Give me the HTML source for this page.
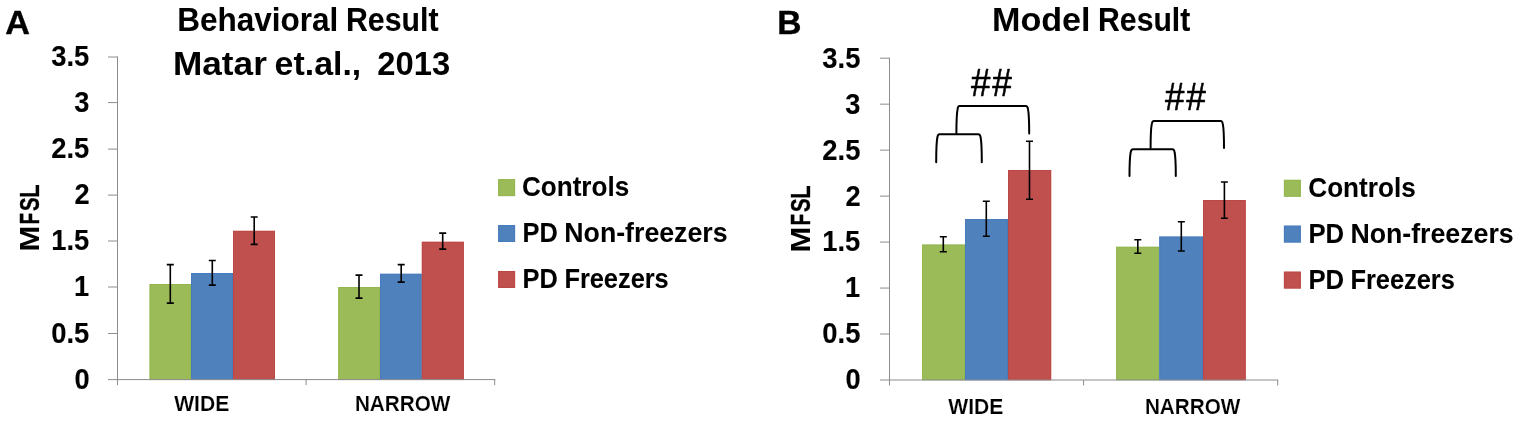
<!DOCTYPE html>
<html lang="en">
<head>
<meta charset="utf-8">
<title>Behavioral Result and Model Result</title>
<style>
html,body{margin:0;padding:0;background:#fff;}
body{width:1519px;height:421px;overflow:hidden;}
svg{display:block;font-family:'Liberation Sans',sans-serif;}
text{fill:#000;}
</style>
</head>
<body>
<svg width="1519" height="421" viewBox="0 0 1519 421">
<rect width="1519" height="421" fill="#fff"/>
<g id="panelA">
<rect x="149.5" y="284" width="41.50" height="95.60" fill="#9BBB59"/>
<rect x="150.0" y="284.5" width="40.50" height="95.10" fill="none" stroke="#8DB346" stroke-width="1" stroke-opacity="0.55"/>
<rect x="191" y="273" width="42.00" height="106.60" fill="#4F81BD"/>
<rect x="191.5" y="273.5" width="41.00" height="106.10" fill="none" stroke="#3F76BC" stroke-width="1" stroke-opacity="0.55"/>
<rect x="233" y="230.8" width="42.00" height="148.80" fill="#C0504D"/>
<rect x="233.5" y="231.3" width="41.00" height="148.30" fill="none" stroke="#B9403D" stroke-width="1" stroke-opacity="0.55"/>
<rect x="338.2" y="287" width="41.80" height="92.60" fill="#9BBB59"/>
<rect x="338.7" y="287.5" width="40.80" height="92.10" fill="none" stroke="#8DB346" stroke-width="1" stroke-opacity="0.55"/>
<rect x="380" y="273.75" width="41.80" height="105.85" fill="#4F81BD"/>
<rect x="380.5" y="274.25" width="40.80" height="105.35" fill="none" stroke="#3F76BC" stroke-width="1" stroke-opacity="0.55"/>
<rect x="421.8" y="241.75" width="42.10" height="137.85" fill="#C0504D"/>
<rect x="422.3" y="242.25" width="41.10" height="137.35" fill="none" stroke="#B9403D" stroke-width="1" stroke-opacity="0.55"/>
<path d="M117.5 56.5V380.1M108.0 379.6H495.2M108.0 57.00H117.5M108.0 102.60H117.5M108.0 149.10H117.5M108.0 195.10H117.5M108.0 241.00H117.5M108.0 287.00H117.5M108.0 333.50H117.5M117.5 379.6V385.1M306.1 379.6V385.1M494.7 379.6V385.1" stroke="#8c8c8c" stroke-width="1" fill="none"/>
<path d="M170.3 264.6V303.1M166.8 264.6H173.8M166.8 303.1H173.8" stroke="#000" stroke-width="1.6" fill="none"/>
<path d="M212.3 260.5V285.1M208.8 260.5H215.8M208.8 285.1H215.8" stroke="#000" stroke-width="1.6" fill="none"/>
<path d="M254.2 217.0V244.4M250.7 217.0H257.7M250.7 244.4H257.7" stroke="#000" stroke-width="1.6" fill="none"/>
<path d="M359.0 275.1V298.1M355.5 275.1H362.5M355.5 298.1H362.5" stroke="#000" stroke-width="1.6" fill="none"/>
<path d="M401.2 264.6V282.1M397.7 264.6H404.7M397.7 282.1H404.7" stroke="#000" stroke-width="1.6" fill="none"/>
<path d="M442.7 233.1V249.1M439.2 233.1H446.2M439.2 249.1H446.2" stroke="#000" stroke-width="1.6" fill="none"/>
<text y="66.10" font-size="29.5" font-weight="bold" stroke-linejoin="round"><tspan x="51.17" textLength="38.11" lengthAdjust="spacingAndGlyphs" stroke="#000" stroke-width="0.10">3.5</tspan></text>
<text y="111.70" font-size="29.5" font-weight="bold" stroke-linejoin="round"><tspan x="74.27" textLength="15.16" lengthAdjust="spacingAndGlyphs" stroke="#000" stroke-width="0.11">3</tspan></text>
<text y="158.20" font-size="29.5" font-weight="bold" stroke-linejoin="round"><tspan x="51.17" textLength="38.11" lengthAdjust="spacingAndGlyphs" stroke="#000" stroke-width="0.10">2.5</tspan></text>
<text y="204.20" font-size="29.5" font-weight="bold" stroke-linejoin="round"><tspan x="74.41" textLength="15.16" lengthAdjust="spacingAndGlyphs" stroke="#000" stroke-width="0.11">2</tspan></text>
<text y="250.10" font-size="29.5" font-weight="bold" stroke-linejoin="round"><tspan x="51.17" textLength="38.10" lengthAdjust="spacingAndGlyphs" stroke="#000" stroke-width="0.10">1.5</tspan></text>
<text y="296.10" font-size="29.5" font-weight="bold" stroke-linejoin="round"><tspan x="74.00" textLength="15.16" lengthAdjust="spacingAndGlyphs" stroke="#000" stroke-width="0.11">1</tspan></text>
<text y="342.60" font-size="29.5" font-weight="bold" stroke-linejoin="round"><tspan x="51.17" textLength="38.11" lengthAdjust="spacingAndGlyphs" stroke="#000" stroke-width="0.10">0.5</tspan></text>
<text y="388.70" font-size="29.5" font-weight="bold" stroke-linejoin="round"><tspan x="74.41" textLength="15.16" lengthAdjust="spacingAndGlyphs" stroke="#000" stroke-width="0.11">0</tspan></text>
<text transform="translate(38.90 249.40) rotate(-90)" y="0" font-size="28.3" font-weight="bold" stroke-linejoin="round"><tspan x="-2.02" textLength="25.82" lengthAdjust="spacingAndGlyphs" stroke="#000" stroke-width="0.00">M</tspan><tspan x="25.25" textLength="11.27" lengthAdjust="spacingAndGlyphs" stroke="#000" stroke-width="0.49">F</tspan><tspan x="38.39" textLength="13.57" lengthAdjust="spacingAndGlyphs" stroke="#000" stroke-width="0.40">S</tspan><tspan x="51.54" textLength="13.38" lengthAdjust="spacingAndGlyphs" stroke="#000" stroke-width="0.32">L</tspan></text>
<text y="34.00" font-size="33.8" font-weight="bold" stroke-linejoin="round" stroke="#000" stroke-width="0.4"><tspan x="5.15" textLength="24.68" lengthAdjust="spacingAndGlyphs">A</tspan></text>
<text y="30.90" font-size="32.3" font-weight="bold" stroke-linejoin="round"><tspan x="177.17" textLength="161.22" lengthAdjust="spacingAndGlyphs" stroke="#000" stroke-width="0.04">Behavioral</tspan> <tspan x="345.98" textLength="92.50" lengthAdjust="spacingAndGlyphs" stroke="#000" stroke-width="0.10">Result</tspan></text>
<text y="74.50" font-size="32.3" font-weight="bold" stroke-linejoin="round"><tspan x="173.01" textLength="93.83" lengthAdjust="spacingAndGlyphs" stroke="#000" stroke-width="0.00">Matar</tspan> <tspan x="274.64" textLength="86.61" lengthAdjust="spacingAndGlyphs" stroke="#000" stroke-width="0.00">et.al.,</tspan> <tspan x="377.35" textLength="72.88" lengthAdjust="spacingAndGlyphs" stroke="#000" stroke-width="0.00">2013</tspan></text>
<text y="411.30" font-size="22.3" font-weight="bold" stroke-linejoin="round" stroke="#fff" stroke-width="0.15"><tspan x="174.13" textLength="55.10" lengthAdjust="spacingAndGlyphs">WIDE</tspan></text>
<text y="411.30" font-size="22.3" font-weight="bold" stroke-linejoin="round" stroke="#fff" stroke-width="0.15"><tspan x="354.89" textLength="95.47" lengthAdjust="spacingAndGlyphs">NARROW</tspan></text>
<text y="196.20" font-size="27.5" font-weight="bold" stroke-linejoin="round"><tspan x="521.89" textLength="107.34" lengthAdjust="spacingAndGlyphs" stroke="#000" stroke-width="0.07">Controls</tspan></text>
<text y="242.10" font-size="27.5" font-weight="bold" stroke-linejoin="round"><tspan x="522.50" textLength="35.27" lengthAdjust="spacingAndGlyphs" stroke="#000" stroke-width="0.11">PD</tspan> <tspan x="564.28" textLength="163.34" lengthAdjust="spacingAndGlyphs" stroke="#000" stroke-width="0.04">Non-freezers</tspan></text>
<text y="287.70" font-size="27.5" font-weight="bold" stroke-linejoin="round"><tspan x="522.50" textLength="35.27" lengthAdjust="spacingAndGlyphs" stroke="#000" stroke-width="0.11">PD</tspan> <tspan x="564.40" textLength="104.35" lengthAdjust="spacingAndGlyphs" stroke="#000" stroke-width="0.11">Freezers</tspan></text>
<rect x="498.1" y="179.1" width="17" height="17" fill="#9BBB59"/>
<rect x="498.6" y="179.6" width="16" height="16" fill="none" stroke="#8DB346" stroke-width="1" stroke-opacity="0.55"/>
<rect x="498.1" y="225" width="17" height="17" fill="#4F81BD"/>
<rect x="498.6" y="225.5" width="16" height="16" fill="none" stroke="#3F76BC" stroke-width="1" stroke-opacity="0.55"/>
<rect x="498.1" y="271" width="17" height="17" fill="#C0504D"/>
<rect x="498.6" y="271.5" width="16" height="16" fill="none" stroke="#B9403D" stroke-width="1" stroke-opacity="0.55"/>
</g>
<g id="panelB">
<rect x="922" y="244.5" width="43.00" height="135.50" fill="#9BBB59"/>
<rect x="922.5" y="245.0" width="42.00" height="135.00" fill="none" stroke="#8DB346" stroke-width="1" stroke-opacity="0.55"/>
<rect x="965" y="219" width="43.00" height="161.00" fill="#4F81BD"/>
<rect x="965.5" y="219.5" width="42.00" height="160.50" fill="none" stroke="#3F76BC" stroke-width="1" stroke-opacity="0.55"/>
<rect x="1008" y="170" width="43.20" height="210.00" fill="#C0504D"/>
<rect x="1008.5" y="170.5" width="42.20" height="209.50" fill="none" stroke="#B9403D" stroke-width="1" stroke-opacity="0.55"/>
<rect x="1116.1" y="246.75" width="43.10" height="133.25" fill="#9BBB59"/>
<rect x="1116.6" y="247.25" width="42.10" height="132.75" fill="none" stroke="#8DB346" stroke-width="1" stroke-opacity="0.55"/>
<rect x="1159.2" y="236.5" width="43.80" height="143.50" fill="#4F81BD"/>
<rect x="1159.7" y="237.0" width="42.80" height="143.00" fill="none" stroke="#3F76BC" stroke-width="1" stroke-opacity="0.55"/>
<rect x="1203" y="200" width="42.80" height="180.00" fill="#C0504D"/>
<rect x="1203.5" y="200.5" width="41.80" height="179.50" fill="none" stroke="#B9403D" stroke-width="1" stroke-opacity="0.55"/>
<path d="M889.5 57.7V380.5M880.0 380.0H1278.2M880.0 58.20H889.5M880.0 104.17H889.5M880.0 150.14H889.5M880.0 196.11H889.5M880.0 242.09H889.5M880.0 288.06H889.5M880.0 334.03H889.5M889.5 380.0V385.5M1083.6 380.0V385.5M1277.7 380.0V385.5" stroke="#8c8c8c" stroke-width="1" fill="none"/>
<path d="M943.3 236.7V251.7M939.8 236.7H946.8M939.8 251.7H946.8" stroke="#000" stroke-width="1.6" fill="none"/>
<path d="M986.3 201.2V236.2M982.8 201.2H989.8M982.8 236.2H989.8" stroke="#000" stroke-width="1.6" fill="none"/>
<path d="M1029.5 141.2V199.2M1026.0 141.2H1033.0M1026.0 199.2H1033.0" stroke="#000" stroke-width="1.6" fill="none"/>
<path d="M1137.8 239.8V253.3M1134.3 239.8H1141.3M1134.3 253.3H1141.3" stroke="#000" stroke-width="1.6" fill="none"/>
<path d="M1181.3 221.8V251.0M1177.8 221.8H1184.8M1177.8 251.0H1184.8" stroke="#000" stroke-width="1.6" fill="none"/>
<path d="M1224.4 182.0V218.3M1220.9 182.0H1227.9M1220.9 218.3H1227.9" stroke="#000" stroke-width="1.6" fill="none"/>
<text y="67.60" font-size="29.5" font-weight="bold" stroke-linejoin="round"><tspan x="822.27" textLength="38.11" lengthAdjust="spacingAndGlyphs" stroke="#000" stroke-width="0.10">3.5</tspan></text>
<text y="113.57" font-size="29.5" font-weight="bold" stroke-linejoin="round"><tspan x="845.37" textLength="15.16" lengthAdjust="spacingAndGlyphs" stroke="#000" stroke-width="0.11">3</tspan></text>
<text y="159.54" font-size="29.5" font-weight="bold" stroke-linejoin="round"><tspan x="822.27" textLength="38.11" lengthAdjust="spacingAndGlyphs" stroke="#000" stroke-width="0.10">2.5</tspan></text>
<text y="205.51" font-size="29.5" font-weight="bold" stroke-linejoin="round"><tspan x="845.51" textLength="15.16" lengthAdjust="spacingAndGlyphs" stroke="#000" stroke-width="0.11">2</tspan></text>
<text y="251.49" font-size="29.5" font-weight="bold" stroke-linejoin="round"><tspan x="822.27" textLength="38.10" lengthAdjust="spacingAndGlyphs" stroke="#000" stroke-width="0.10">1.5</tspan></text>
<text y="297.46" font-size="29.5" font-weight="bold" stroke-linejoin="round"><tspan x="845.10" textLength="15.16" lengthAdjust="spacingAndGlyphs" stroke="#000" stroke-width="0.11">1</tspan></text>
<text y="343.43" font-size="29.5" font-weight="bold" stroke-linejoin="round"><tspan x="822.27" textLength="38.11" lengthAdjust="spacingAndGlyphs" stroke="#000" stroke-width="0.10">0.5</tspan></text>
<text y="389.40" font-size="29.5" font-weight="bold" stroke-linejoin="round"><tspan x="845.51" textLength="15.16" lengthAdjust="spacingAndGlyphs" stroke="#000" stroke-width="0.11">0</tspan></text>
<text transform="translate(809.90 250.40) rotate(-90)" y="0" font-size="28.3" font-weight="bold" stroke-linejoin="round"><tspan x="-2.02" textLength="25.82" lengthAdjust="spacingAndGlyphs" stroke="#000" stroke-width="0.00">M</tspan><tspan x="25.25" textLength="11.27" lengthAdjust="spacingAndGlyphs" stroke="#000" stroke-width="0.49">F</tspan><tspan x="38.39" textLength="13.57" lengthAdjust="spacingAndGlyphs" stroke="#000" stroke-width="0.40">S</tspan><tspan x="51.54" textLength="13.38" lengthAdjust="spacingAndGlyphs" stroke="#000" stroke-width="0.32">L</tspan></text>
<text y="34.00" font-size="33.8" font-weight="bold" stroke-linejoin="round" stroke="#000" stroke-width="0.4"><tspan x="777.32" textLength="24.26" lengthAdjust="spacingAndGlyphs">B</tspan></text>
<text y="31.10" font-size="32.3" font-weight="bold" stroke-linejoin="round"><tspan x="991.98" textLength="98.56" lengthAdjust="spacingAndGlyphs" stroke="#000" stroke-width="0.00">Model</tspan> <tspan x="1098.09" textLength="92.19" lengthAdjust="spacingAndGlyphs" stroke="#000" stroke-width="0.11">Result</tspan></text>
<text y="414.10" font-size="22.3" font-weight="bold" stroke-linejoin="round" stroke="#fff" stroke-width="0.15"><tspan x="948.33" textLength="55.10" lengthAdjust="spacingAndGlyphs">WIDE</tspan></text>
<text y="414.10" font-size="22.3" font-weight="bold" stroke-linejoin="round" stroke="#fff" stroke-width="0.15"><tspan x="1144.89" textLength="95.47" lengthAdjust="spacingAndGlyphs">NARROW</tspan></text>
<text y="196.80" font-size="27.5" font-weight="bold" stroke-linejoin="round"><tspan x="1308.29" textLength="107.45" lengthAdjust="spacingAndGlyphs" stroke="#000" stroke-width="0.07">Controls</tspan></text>
<text y="242.80" font-size="27.5" font-weight="bold" stroke-linejoin="round"><tspan x="1308.47" textLength="35.72" lengthAdjust="spacingAndGlyphs" stroke="#000" stroke-width="0.09">PD</tspan> <tspan x="1350.38" textLength="163.34" lengthAdjust="spacingAndGlyphs" stroke="#000" stroke-width="0.04">Non-freezers</tspan></text>
<text y="288.80" font-size="27.5" font-weight="bold" stroke-linejoin="round"><tspan x="1308.47" textLength="35.72" lengthAdjust="spacingAndGlyphs" stroke="#000" stroke-width="0.09">PD</tspan> <tspan x="1350.50" textLength="104.35" lengthAdjust="spacingAndGlyphs" stroke="#000" stroke-width="0.11">Freezers</tspan></text>
<text y="95.60" font-size="38.5" font-weight="normal" stroke-linejoin="round" stroke="#000" stroke-width="0.6"><tspan x="971.12" textLength="19.41" lengthAdjust="spacingAndGlyphs">#</tspan><tspan x="992.30" textLength="19.63" lengthAdjust="spacingAndGlyphs">#</tspan></text>
<text y="109.60" font-size="38.5" font-weight="normal" stroke-linejoin="round" stroke="#000" stroke-width="0.6"><tspan x="1165.12" textLength="19.41" lengthAdjust="spacingAndGlyphs">#</tspan><tspan x="1186.30" textLength="19.63" lengthAdjust="spacingAndGlyphs">#</tspan></text>
<rect x="1283.9" y="179.8" width="17" height="17" fill="#9BBB59"/>
<rect x="1284.4" y="180.3" width="16" height="16" fill="none" stroke="#8DB346" stroke-width="1" stroke-opacity="0.55"/>
<rect x="1283.9" y="225.6" width="17" height="17" fill="#4F81BD"/>
<rect x="1284.4" y="226.1" width="16" height="16" fill="none" stroke="#3F76BC" stroke-width="1" stroke-opacity="0.55"/>
<rect x="1283.9" y="271.6" width="17" height="17" fill="#C0504D"/>
<rect x="1284.4" y="272.1" width="16" height="16" fill="none" stroke="#B9403D" stroke-width="1" stroke-opacity="0.55"/>
<path d="M956.4 133.5 C956.4 119.5 957.0 112.1 957.6 109.1 Q958.0 106.1 959.4 106.1 H1025.7 Q1027.6000000000001 106.1 1028.0 109.1 C1028.6000000000001 112.1 1029.2 119.5 1029.2 133.5" stroke="#000" stroke-width="2" fill="none" stroke-linecap="round"/>
<path d="M936.2 162.2 C936.2 148.2 936.8000000000001 140.3 937.4000000000001 137.3 Q937.8000000000001 134.3 939.5 134.3 H978.3 Q980.1999999999999 134.3 980.5999999999999 137.3 C981.1999999999999 140.3 981.8 148.2 981.8 162.2" stroke="#000" stroke-width="2" fill="none" stroke-linecap="round"/>
<path d="M1150.6 148 C1150.6 134 1151.1999999999998 126.9 1151.8 123.9 Q1152.1999999999998 120.9 1153.9 120.9 H1220.7 Q1222.4 120.9 1222.8 123.9 C1223.4 126.9 1224 134 1224 148" stroke="#000" stroke-width="2" fill="none" stroke-linecap="round"/>
<path d="M1129.5 176 C1129.5 162 1130.1 155.3 1130.7 152.3 Q1131.1 149.3 1133.2 149.3 H1172.5 Q1174.2 149.3 1174.6 152.3 C1175.2 155.3 1175.8 162 1175.8 176" stroke="#000" stroke-width="2" fill="none" stroke-linecap="round"/>
</g>
</svg>
</body>
</html>
